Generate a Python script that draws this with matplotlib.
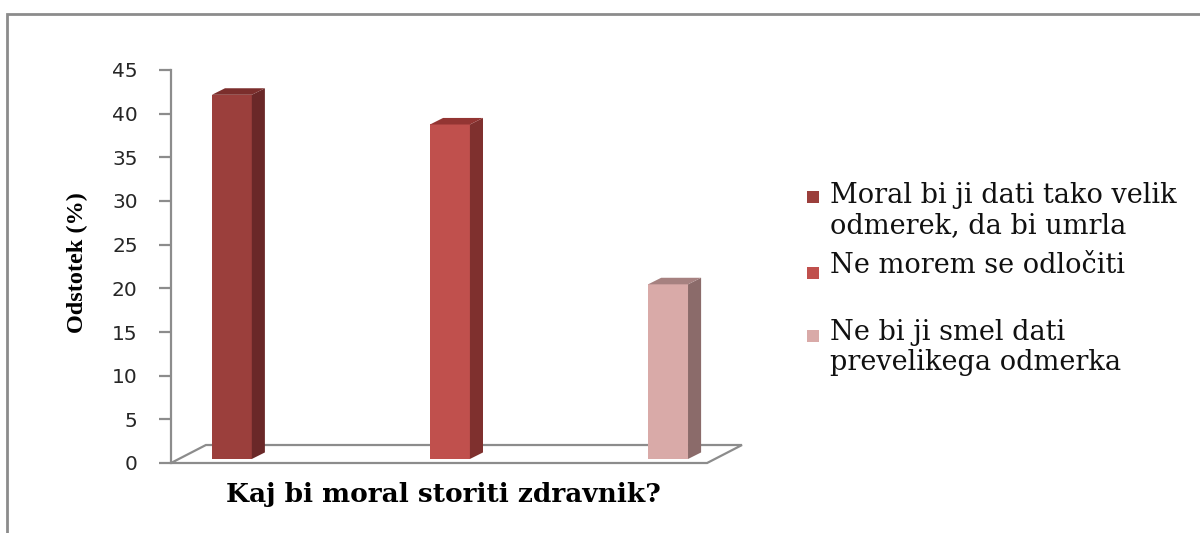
import matplotlib.pyplot as plt
from matplotlib.patches import Polygon, Rectangle

# data
labels = ["Moral bi ji dati tako velik\nodmerek, da bi umrla",
          "Ne morem se odločiti",
          "Ne bi ji smel dati\nprevelikega odmerka"]
values = [41.7, 38.3, 20.0]
front_colors = ["#9B3F3C", "#C0504D", "#D9AAA8"]
side_colors = ["#6A2828", "#7F302E", "#8B6B6A"]
top_colors = ["#7B2E2C", "#933533", "#A68180"]
yticks = [0, 5, 10, 15, 20, 25, 30, 35, 40, 45]

# fake 3d geometry (data units)
bw = 0.183
ddx, ddy = 0.06, 0.75
base = 0.46
fdx, fdy = 0.16, 2.06
x0, x1 = -0.279, 2.179
grey = "#8c8c8c"

fig = plt.figure(figsize=(12, 5.33), dpi=100)
ax = fig.add_axes([171 / 1200, 70 / 533, 571 / 1200, 393 / 533])
ax.set_xlim(x0, x1 + fdx)
ax.set_ylim(0, 45)

# chart frame (only top and left visible)
fig.patches.append(Rectangle((7 / 1200, -0.1), 1.2, (533 - 14) / 533 + 0.1,
                             transform=fig.transFigure, fill=False,
                             edgecolor=grey, lw=2))

# floor
floor = Polygon([(x0, 0), (x1, 0), (x1 + fdx, fdy), (x0 + fdx, fdy)],
                closed=True, facecolor="white", edgecolor=grey, lw=1.6,
                clip_on=False, zorder=1)
ax.add_patch(floor)

xs = list(range(len(values)))
ax.bar(xs, values, width=bw, bottom=base, color=front_colors, zorder=3)
for i, v in enumerate(values):
    r = i + bw / 2
    l = i - bw / 2
    top = base + v
    ax.add_patch(Polygon([(r, base), (r + ddx, base + ddy), (r + ddx, top + ddy), (r, top)],
                         closed=True, facecolor=side_colors[i], lw=0, zorder=3))
    ax.add_patch(Polygon([(l, top), (r, top), (r + ddx, top + ddy), (l + ddx, top + ddy)],
                         closed=True, facecolor=top_colors[i], lw=0, zorder=3))

for s in ["top", "right", "bottom"]:
    ax.spines[s].set_visible(False)
ax.spines["left"].set_color(grey)
ax.spines["left"].set_linewidth(1.6)
ax.set_xticks([])
ax.set_yticks(yticks)
ax.tick_params(axis="y", length=9, width=1.6, color=grey, labelsize=14.5,
               labelcolor="#262626", pad=15)

ax.set_ylabel("Odstotek (%)", family="Liberation Serif", fontweight="bold",
              fontsize=17.5)
ax.yaxis.set_label_coords(-0.145, 0.51)
fig.text(443 / 1200, 1 - 502 / 533, "Kaj bi moral storiti zdravnik?",
         family="DejaVu Serif", fontweight="bold", fontsize=19,
         ha="center", va="baseline")

# legend (squares at first line, text placed by last baseline)
sq_y = [197, 273, 336]
last_base = [233, 273, 370]
for i, lab in enumerate(labels):
    fig.patches.append(Rectangle((807 / 1200, 1 - (sq_y[i] + 6) / 533), 12 / 1200, 12 / 533,
                                 transform=fig.transFigure,
                                 facecolor=front_colors[i], lw=0))
    fig.text(830 / 1200, 1 - last_base[i] / 533, lab, family="DejaVu Serif",
             fontsize=19.5, va="baseline", ha="left", linespacing=1.12,
             color="#111111")

fig.savefig("out.png", dpi=100)
